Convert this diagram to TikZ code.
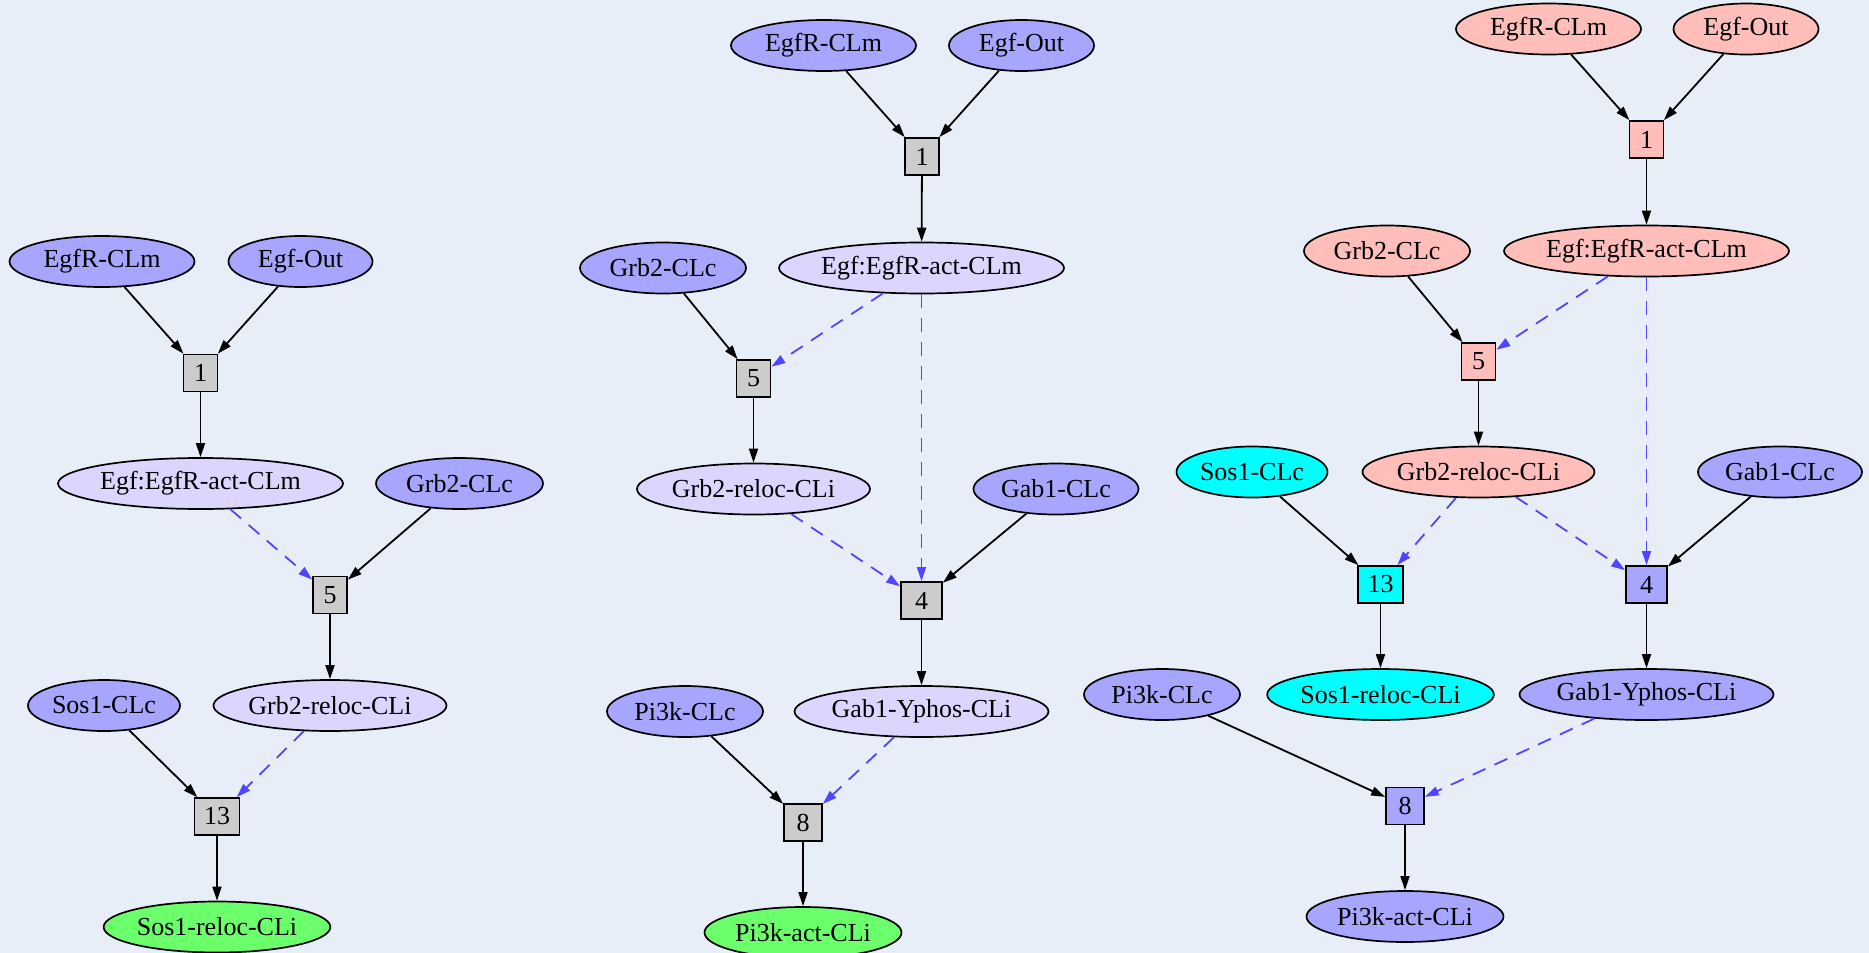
\documentclass[tikz,border=0pt]{standalone}
\usepackage{fontspec}
\setmainfont{Liberation Serif}
\usetikzlibrary{shapes.geometric,arrows.meta}
\definecolor{bgc}{RGB}{232,238,247}
\definecolor{spblue}{RGB}{166,166,255}
\definecolor{splav}{RGB}{220,214,255}
\definecolor{spgreen}{RGB}{108,255,108}
\definecolor{sppink}{RGB}{255,190,186}
\definecolor{spcyan}{RGB}{0,255,255}
\definecolor{rxgray}{RGB}{204,204,204}
\definecolor{inhblue}{RGB}{80,70,255}
\tikzset{
  sp/.style={ellipse, draw=black, line width=1.7pt, inner sep=0pt, minimum height=51pt,
             font=\fontsize{26}{30}\selectfont},
  rx/.style={rectangle, draw=black, line width=1.7pt, inner sep=0pt, minimum height=37pt,
             minimum width=34pt, font=\fontsize{26}{30}\selectfont},
  arr/.style={-{Triangle[length=14pt,width=9pt]}, line width=1.8pt, draw=black},
  mod/.style={-{Triangle[length=14pt,width=9pt]}, line width=1.8pt, draw=inhblue,
              dash pattern=on 14pt off 10pt},
}
\begin{document}
\begin{tikzpicture}[x=1pt,y=-1pt]
\fill[bgc] (0,0) rectangle (1869,953);
\useasboundingbox (0,0) rectangle (1869,953);

% ---------------- left graph ----------------
\node[sp, fill=spblue, minimum width=185pt] (LegfR) at (102,261.5) {EgfR-CLm};
\node[sp, fill=spblue, minimum width=144pt] (Legf) at (300.5,261.5) {Egf-Out};
\node[rx, fill=rxgray] (L1) at (200.5,373) {1};
\node[sp, fill=splav, minimum width=285pt] (Lact) at (200.5,483.5) {Egf:EgfR-act-CLm};
\node[sp, fill=spblue, minimum width=167pt] (Lgrb) at (459.5,483.5) {Grb2-CLc};
\node[rx, fill=rxgray] (L5) at (330,595) {5};
\node[sp, fill=spblue, minimum width=152pt] (Lsos) at (104,705.5) {Sos1-CLc};
\node[sp, fill=splav, minimum width=233pt] (Lgrbr) at (330,705.5) {Grb2-reloc-CLi};
\node[rx, fill=rxgray, minimum width=45pt] (L13) at (217,816.5) {13};
\node[sp, fill=spgreen, minimum width=214pt] (Lsosr) at (217,927) {Sos1-reloc-CLi};

\draw[arr] (LegfR) -- (L1);
\draw[arr] (Legf) -- (L1);
\draw[arr] (L1) -- (Lact);
\draw[mod] (Lact) -- (L5);
\draw[arr] (Lgrb) -- (L5);
\draw[arr] (L5) -- (Lgrbr);
\draw[arr] (Lsos) -- (L13);
\draw[mod] (Lgrbr) -- (L13);
\draw[arr] (L13) -- (Lsosr);

% ---------------- middle graph ----------------
\node[sp, fill=spblue, minimum width=185pt] (MegfR) at (823.5,45.5) {EgfR-CLm};
\node[sp, fill=spblue, minimum width=145pt] (Megf) at (1021.5,45.5) {Egf-Out};
\node[rx, fill=rxgray] (M1) at (922,156.5) {1};
\node[sp, fill=splav, minimum width=285pt] (Mact) at (921.5,268) {Egf:EgfR-act-CLm};
\node[sp, fill=spblue, minimum width=166pt] (Mgrb) at (663,268) {Grb2-CLc};
\node[rx, fill=rxgray] (M5) at (753.5,378.5) {5};
\node[sp, fill=splav, minimum width=233pt] (Mgrbr) at (753.5,489) {Grb2-reloc-CLi};
\node[sp, fill=spblue, minimum width=165pt] (Mgab) at (1056,489) {Gab1-CLc};
\node[rx, fill=rxgray, minimum width=41pt] (M4) at (921.5,600.5) {4};
\node[sp, fill=spblue, minimum width=156pt] (Mpi) at (685,711.5) {Pi3k-CLc};
\node[sp, fill=splav, minimum width=252pt] (Mgabp) at (921.5,711.5) {Gab1-Yphos-CLi};
\node[rx, fill=rxgray, minimum width=38pt] (M8) at (803,822.5) {8};
\node[sp, fill=spgreen, minimum width=197pt] (Mpia) at (803,932.5) {Pi3k-act-CLi};

\draw[arr] (MegfR) -- (M1);
\draw[arr] (Megf) -- (M1);
\draw[arr] (M1) -- (Mact);
\draw[arr] (Mgrb) -- (M5);
\draw[mod] (Mact) -- (M5);
\draw[arr] (M5) -- (Mgrbr);
\draw[mod] (Mact) -- (M4);
\draw[mod] (Mgrbr) -- (M4);
\draw[arr] (Mgab) -- (M4);
\draw[arr] (M4) -- (Mgabp);
\draw[arr] (Mpi) -- (M8);
\draw[mod] (Mgabp) -- (M8);
\draw[arr] (M8) -- (Mpia);

% ---------------- right graph ----------------
\node[sp, fill=sppink, minimum width=185pt] (RegfR) at (1548.5,29) {EgfR-CLm};
\node[sp, fill=sppink, minimum width=145pt] (Regf) at (1746,29) {Egf-Out};
\node[rx, fill=sppink] (R1) at (1646.5,139.5) {1};
\node[sp, fill=sppink, minimum width=285pt] (Ract) at (1646.5,251) {Egf:EgfR-act-CLm};
\node[sp, fill=sppink, minimum width=166pt] (Rgrb) at (1387,251) {Grb2-CLc};
\node[rx, fill=sppink] (R5) at (1478.5,361.5) {5};
\node[sp, fill=spcyan, minimum width=151pt] (Rsos) at (1252,472) {Sos1-CLc};
\node[sp, fill=sppink, minimum width=232pt] (Rgrbr) at (1478.5,472) {Grb2-reloc-CLi};
\node[sp, fill=spblue, minimum width=164pt] (Rgab) at (1780,472) {Gab1-CLc};
\node[rx, fill=spcyan, minimum width=45pt] (R13) at (1380.5,584.5) {13};
\node[rx, fill=spblue, minimum width=41pt] (R4) at (1646.5,584.5) {4};
\node[sp, fill=spblue, minimum width=156pt] (Rpi) at (1162,694.5) {Pi3k-CLc};
\node[sp, fill=spcyan, minimum width=215pt] (Rsosr) at (1380.5,694.5) {Sos1-reloc-CLi};
\node[sp, fill=spblue, minimum width=252pt] (Rgabp) at (1646.5,694.5) {Gab1-Yphos-CLi};
\node[rx, fill=spblue, minimum width=38pt] (R8) at (1405,806) {8};
\node[sp, fill=spblue, minimum width=197pt] (Rpia) at (1405,916.5) {Pi3k-act-CLi};

\draw[arr] (RegfR) -- (R1);
\draw[arr] (Regf) -- (R1);
\draw[arr] (R1) -- (Ract);
\draw[arr] (Rgrb) -- (R5);
\draw[mod] (Ract) -- (R5);
\draw[arr] (R5) -- (Rgrbr);
\draw[arr] (Rsos) -- (R13);
\draw[mod] (Rgrbr) -- (R13);
\draw[mod] (Rgrbr) -- (R4);
\draw[mod] (Ract) -- (R4);
\draw[arr] (Rgab) -- (R4);
\draw[arr] (R13) -- (Rsosr);
\draw[arr] (R4) -- (Rgabp);
\draw[arr] (Rpi) -- (R8);
\draw[mod] (Rgabp) -- (R8);
\draw[arr] (R8) -- (Rpia);
\end{tikzpicture}
\end{document}
